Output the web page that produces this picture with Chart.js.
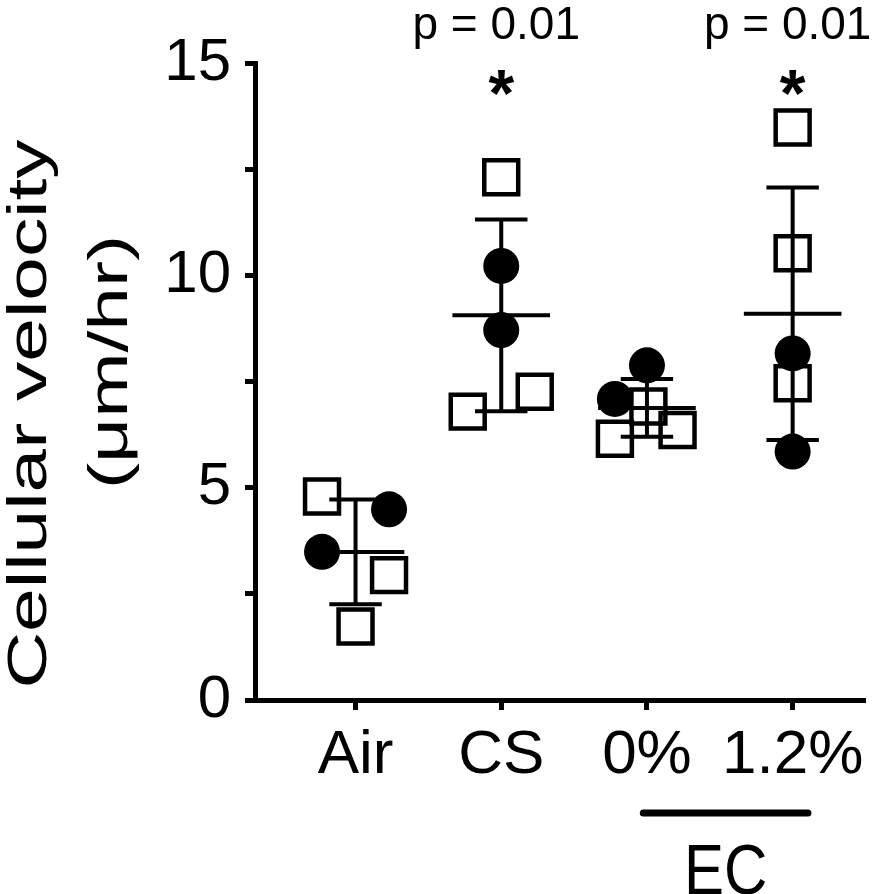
<!DOCTYPE html>
<html>
<head>
<meta charset="utf-8">
<script src="https://cdn.jsdelivr.net/npm/chart.js@4.4.0/dist/chart.umd.min.js"></script>
<style>
  html, body { margin: 0; padding: 0; background: #fff; }
  #wrap { width: 894px; height: 894px; }
</style>
</head>
<body>
<div id="wrap"><canvas id="velocityChart" width="894" height="894"></canvas></div>
<script>
// groups on the x axis (1..4)
const groups = ['Air', 'CS', '0%', '1.2%'];

// open squares, per group
const squareValues = [
  [4.79, 2.94, 1.73],
  [12.31, 6.79, 7.26],
  [6.15, 6.36, 6.91],
  [13.48, 10.52, 7.46]
];
// filled circles, per group
const circleValues = [
  [4.49, 3.49],
  [10.22, 8.71],
  [7.88, 7.09],
  [8.16, 5.85]
];
// horizontal scatter of each point (category units)
const squareJitter = [
  [-0.23, 0.23, 0],
  [0, -0.23, 0.23],
  [-0.22, 0.21, 0.01],
  [0, 0, 0]
];
const circleJitter = [
  [0.23, -0.23],
  [0, 0],
  [0, -0.22],
  [0, 0]
];

const yTicks = [0, 5, 10, 15];
const pLabels = ['', 'p = 0.01', '', 'p = 0.01'];
const starLabels = ['', '*', '', '*'];

const SANS = "'Liberation Sans', Arial, sans-serif";

function toPoints(values, jitter) {
  const pts = [];
  values.forEach(function(list, g) {
    list.forEach(function(v, k) {
      pts.push({ x: g + 1 + jitter[g][k], y: v });
    });
  });
  return pts;
}

// mean and SD of every group (squares + circles together)
const stats = groups.map(function(name, g) {
  const all = squareValues[g].concat(circleValues[g]);
  const mean = all.reduce(function(a, b) { return a + b; }, 0) / all.length;
  const sd = Math.sqrt(all.reduce(function(a, b) { return a + (b - mean) * (b - mean); }, 0) / (all.length - 1));
  return { mean: mean, sd: sd };
});

const meanLines = [];
const sdStems = [];
const sdCaps = [];
stats.forEach(function(s, g) {
  const x = g + 1;
  meanLines.push({ x: x - 0.335, y: s.mean }, { x: x + 0.335, y: s.mean }, { x: x, y: null });
  sdStems.push({ x: x, y: s.mean - s.sd }, { x: x, y: s.mean + s.sd }, { x: x, y: null });
  sdCaps.push({ x: x - 0.18, y: s.mean + s.sd }, { x: x + 0.18, y: s.mean + s.sd }, { x: x, y: null });
  sdCaps.push({ x: x - 0.18, y: s.mean - s.sd }, { x: x + 0.18, y: s.mean - s.sd }, { x: x, y: null });
});

function lineSet(data) {
  return {
    data: data,
    showLine: true,
    spanGaps: false,
    borderColor: '#000',
    borderWidth: 4,
    pointRadius: 0,
    pointHoverRadius: 0
  };
}

// text drawn a bit taller than wide, like the exported figure
function tallText(ctx, text, x, y, stretch, rotate) {
  ctx.save();
  ctx.translate(x, y);
  if (rotate) ctx.rotate(-Math.PI / 2);
  if (rotate) ctx.scale(stretch, 1); else ctx.scale(1, stretch);
  ctx.fillText(text, 0, 0);
  ctx.restore();
}

const extras = {
  id: 'extras',
  afterDraw: function(chart) {
    const ctx = chart.ctx;
    const xs = chart.scales.x;
    ctx.save();
    ctx.fillStyle = '#000';
    ctx.strokeStyle = '#000';
    ctx.textAlign = 'center';
    ctx.textBaseline = 'alphabetic';

    // y axis title
    ctx.font = '56px ' + SANS;
    tallText(ctx, 'Cellular velocity', 46, 414, 1.4, true);
    tallText(ctx, '(\u03bcm/hr)', 127, 362, 1.4, true);

    // significance labels
    groups.forEach(function(name, g) {
      const px = xs.getPixelForValue(g + 1);
      if (pLabels[g]) {
        ctx.font = '46px ' + SANS;
        ctx.fillText(pLabels[g], px - 5, 39);
      }
      if (starLabels[g]) {
        ctx.font = 'bold 66px ' + SANS;
        ctx.fillText(starLabels[g], px, 116);
      }
    });

    // EC bracket under 0% and 1.2%
    const x0 = xs.getPixelForValue(2.975);
    const x1 = xs.getPixelForValue(4.105);
    ctx.lineWidth = 7;
    ctx.lineCap = 'round';
    ctx.beginPath();
    ctx.moveTo(x0, 813);
    ctx.lineTo(x1, 813);
    ctx.stroke();
    ctx.font = '60px ' + SANS;
    tallText(ctx, 'EC', (x0 + x1) / 2, 894, 1.18, false);
    ctx.restore();
  }
};

new Chart(document.getElementById('velocityChart'), {
  type: 'scatter',
  data: {
    datasets: [
      lineSet(meanLines),
      lineSet(sdStems),
      lineSet(sdCaps),
      {
        data: toPoints(circleValues, circleJitter),
        pointStyle: 'circle',
        pointRadius: 18,
        pointHoverRadius: 18,
        pointBackgroundColor: '#000',
        pointBorderColor: '#000',
        pointBorderWidth: 0
      },
      {
        data: toPoints(squareValues, squareJitter),
        pointStyle: 'rect',
        pointRadius: 24,
        pointHoverRadius: 24,
        pointBackgroundColor: 'rgba(0,0,0,0)',
        pointBorderColor: '#000',
        pointBorderWidth: 4.5
      }
    ]
  },
  options: {
    responsive: false,
    animation: false,
    devicePixelRatio: 1,
    layout: { padding: { top: 63, right: 26, bottom: 0, left: 0 } },
    plugins: {
      legend: { display: false },
      tooltip: { enabled: false }
    },
    scales: {
      x: {
        type: 'linear',
        min: 0.31,
        max: 4.5,
        afterBuildTicks: function(scale) {
          scale.ticks = groups.map(function(n, i) { return { value: i + 1 }; });
        },
        afterFit: function(scale) {
          scale.height = 194;
          scale.paddingLeft = 0;
          scale.paddingRight = 0;
        },
        ticks: {
          color: '#000',
          font: { family: SANS, size: 62 },
          padding: 9,
          maxRotation: 0,
          autoSkip: false,
          callback: function(v) { return groups[v - 1]; }
        },
        grid: {
          drawOnChartArea: false,
          drawTicks: true,
          tickLength: 10,
          tickWidth: 5,
          tickColor: '#000'
        },
        border: { display: true, color: '#000', width: 5 }
      },
      y: {
        min: 0,
        max: 15,
        afterBuildTicks: function(scale) {
          const t = [];
          for (let v = 0; v <= 15; v += 2.5) t.push({ value: v });
          scale.ticks = t;
        },
        afterFit: function(scale) {
          scale.width = 255;
          scale.paddingTop = 0;
          scale.paddingBottom = 0;
        },
        ticks: {
          color: '#000',
          font: { family: SANS, size: 60 },
          padding: 14,
          autoSkip: false,
          callback: function(v) { return yTicks.indexOf(v) >= 0 ? String(v) : ''; }
        },
        grid: {
          drawOnChartArea: false,
          drawTicks: true,
          tickLength: 10,
          tickWidth: 5,
          tickColor: '#000'
        },
        border: { display: true, color: '#000', width: 5 }
      }
    }
  },
  plugins: [extras]
});
</script>
</body>
</html>
